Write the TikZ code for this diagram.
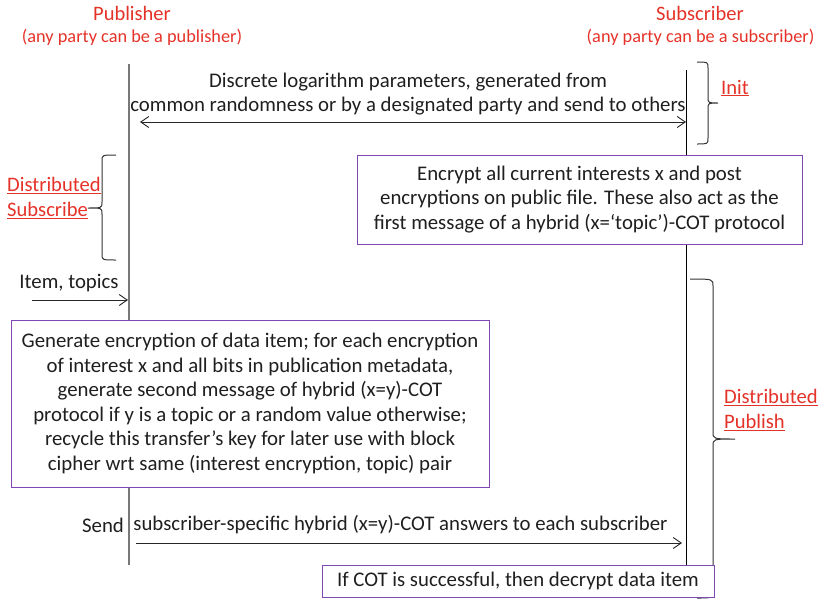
\documentclass[tikz,border=0pt]{standalone}
\usepackage{fontspec}
\setmainfont{Carlito}
\usetikzlibrary{arrows.meta}
\definecolor{hdred}{RGB}{229,50,40}
\definecolor{boxpurple}{RGB}{128,70,180}
\definecolor{lifegray}{RGB}{120,120,120}
\begin{document}
\begin{tikzpicture}[x=1pt,y=-1pt,
  txt/.style={font=\fontsize{20.8}{24.5}\selectfont, inner sep=0pt, align=center, text=black!88},
  hd/.style={font=\fontsize{20.5}{24.5}\selectfont, inner sep=0pt, align=center, text=hdred},
  hds/.style={font=\fontsize{18.3}{22}\selectfont, inner sep=0pt, align=center, text=hdred},
  lbl/.style={font=\fontsize{20.6}{25}\selectfont, inner sep=0pt, align=left, text=hdred},
  pbox/.style={draw=boxpurple, line width=1pt, fill=white, inner sep=0pt, align=center,
     font=\fontsize{20.8}{24.5}\selectfont, text=black!88},
  arr/.style={-{Straight Barb[length=8pt,width=11pt]}, line width=0.9pt, draw=black!85},
  darr/.style={{Straight Barb[length=8pt,width=11pt]}-{Straight Barb[length=8pt,width=11pt]}, line width=0.9pt, draw=black!85},
  brc/.style={line width=1pt, draw=black!80},
]
\useasboundingbox (0,0) rectangle (822,600);

% headings
\node[hd] (pubh) at (132,13) {Publisher};
\node[hds] (pubs) at (132,37) {(any party can be a publisher)};
\node[hd] (subh) at (700,13) {Subscriber};
\node[hds] (subs) at (700.5,37) {(any party can be a subscriber)};

% lifelines
\coordinate (pt) at (129,64);
\coordinate (pb) at (129,565);
\coordinate (st) at (686,70);
\coordinate (sb) at (686,570);
\draw[line width=1.3pt, draw=lifegray] (pt) -- (pb);
\draw[line width=1pt, draw=black] (st) -- (sb);

% Init
\node[txt] (initmsg) at (408,94) {Discrete logarithm parameters, generated from\\common randomness or by a designated party and send to others};
\coordinate (i1) at (140,122);
\coordinate (i2) at (686,122);
\draw[darr] (i1) -- (i2);
\draw[brc] (697,62) .. controls (708,62) .. (708,68) -- (708,97) .. controls (708,103) .. (718,103)
   .. controls (708,103) .. (708,109) -- (708,138) .. controls (708,144) .. (697,144);
\node[lbl, anchor=west] (init) at (721,88) {\underline{Init}};

% Distributed subscribe
\draw[brc] (116,155) .. controls (102,155) .. (102,161) -- (102,202) .. controls (102,208) .. (88,208)
   .. controls (102,208) .. (102,214) -- (102,254) .. controls (102,260) .. (116,260);
\node[lbl, anchor=west] (dsub) at (7,198) {\underline{Distributed}\\\underline{Subscribe}};
\node[pbox, minimum width=445pt, minimum height=89pt] (box1) at (579.5,199.5)
  {Encrypt all current interests x and post\\encryptions on public file. These also act as the\\first message of a hybrid (x=‘topic’)-COT protocol};

% Item, topics
\node[txt] (item) at (69,283) {Item, topics};
\coordinate (it1) at (32,300);
\coordinate (it2) at (128,300);
\draw[arr] (it1) -- (it2);

% Big publisher box
\node[pbox, minimum width=478pt, minimum height=167pt] (box2) at (250,403.5)
  {Generate encryption of data item; for each encryption\\of interest x and all bits in publication metadata,\\generate second message of hybrid (x=y)-COT\\protocol if y is a topic or a random value otherwise;\\recycle this transfer’s key for later use with block\\cipher wrt same (interest encryption, topic) pair};

% Distributed publish brace
\draw[brc] (690,279) .. controls (713,279) .. (713,286) -- (713,432) .. controls (713,439) .. (735,439)
   .. controls (713,439) .. (713,446) -- (713,591) .. controls (713,598) .. (697,598);
\node[lbl, anchor=west] (dpub) at (724,410) {\underline{Distributed}\\\underline{Publish}};

% Send
\node[txt] (send) at (103,525) {Send};
\node[txt] (sendmsg) at (400.5,525) {subscriber-specific hybrid (x=y)-COT answers to each subscriber};
\coordinate (s1) at (136,543);
\coordinate (s2) at (682,543);
\draw[arr] (s1) -- (s2);

% Final box
\node[pbox, minimum width=392pt, minimum height=32pt] (box3) at (518,581)
  {If COT is successful, then decrypt data item};
\end{tikzpicture}
\end{document}
